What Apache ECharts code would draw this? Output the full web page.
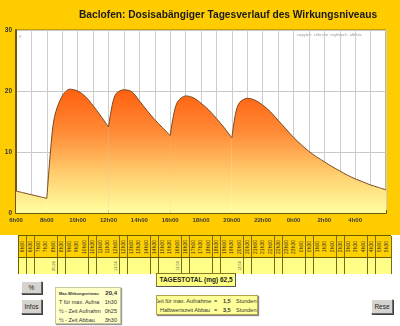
<!DOCTYPE html>
<html><head><meta charset="utf-8">
<script src="https://cdn.jsdelivr.net/npm/echarts/dist/echarts.min.js"></script>
<style>
html,body{margin:0;padding:0;width:400px;height:326px;overflow:hidden;background:#fff;font-family:"Liberation Sans",Arial,sans-serif;}
#chart{position:absolute;left:0;top:0;width:400px;height:235px;}
.abs{position:absolute;box-sizing:border-box;}
.hcell{position:absolute;top:0;height:22px;background:#FFD000;border-right:1px solid #7a6a10;display:flex;align-items:center;justify-content:center;box-sizing:border-box;}
.dcell{position:absolute;top:22px;height:16px;background:#FFFF88;border-right:1px solid #7a6a10;display:flex;align-items:center;justify-content:center;box-sizing:border-box;}
.vt{writing-mode:vertical-rl;transform:rotate(180deg);white-space:nowrap;line-height:1;}
.btn{position:absolute;box-sizing:border-box;background:#d6d3ce;border:1px solid;border-color:#fff #6b6b6b #6b6b6b #fff;box-shadow:1px 1px 0 #404040;font-size:6.5px;color:#222;display:flex;align-items:center;justify-content:center;}
.row{position:absolute;left:3px;right:3px;font-size:5.5px;color:#333;white-space:nowrap;}
</style></head><body>
<div id="chart"></div>
<div id="table" class="abs" style="left:18px;top:235px;width:373px;height:39px;border:1px solid #6a5a00;border-right:none;"></div>
<div class="abs" style="left:156px;top:273px;width:80px;height:14px;background:#FFFF80;border:1px solid #8a7a20;border-right-color:#555;border-bottom-color:#555;font-size:6.5px;font-weight:bold;color:#222;line-height:12px;text-align:center;white-space:nowrap;" id="total"></div>
<div class="btn" style="left:21px;top:281px;width:21px;height:13px;">%</div>
<div class="btn" style="left:21px;top:299px;width:21px;height:15px;">Infos</div>
<div class="btn" style="left:371px;top:299px;width:22px;height:15px;">Rese</div>
<div id="info1" class="abs" style="left:55px;top:287px;width:66px;height:37px;background:#FFFFC8;border:1px solid #c8c8a0;box-shadow:1px 1px 1px #999;"></div>
<div id="info2" class="abs" style="left:156px;top:295px;width:102px;height:20px;background:#FFFF99;border:1px solid #b0a050;box-shadow:1px 1px 1px #888;overflow:hidden;"></div>
<script>
// ---- data ----
const titleText = "Baclofen: Dosisabängiger Tagesverlauf des Wirkungsniveaus";
const times = ["6h00","6h30","7h00","7h30","8h00","8h15","8h30","9h00","9h30","10h00","10h30","11h00","11h30","12h00","12h15","12h30","13h00","13h30","14h00","14h30","15h00","15h30","16h00","16h15","16h30","17h00","17h30","18h00","18h30","19h00","19h30","20h00","20h15","20h30","21h00","21h30","22h00","22h30","23h00","23h30","0h00","0h30","1h00","1h30","2h00","2h30","3h00","3h30","4h00","4h30","5h00","5h30","6h00"];
const levels = [3.6,3.3,3.0,2.7,2.4, 10.5,15.8,19.2,20.3,20.0,19.1,17.6,15.9,14.1, 17.8,19.6,20.2,19.9,18.4,16.8,15.3,14.0,12.7, 16.4,18.3,19.2,18.9,18.0,16.9,15.5,14.0,12.3, 16.4,18.1,18.8,18.5,17.7,16.6,15.2,13.8,12.4,11.2,10.1,9.2,8.4,7.6,6.9,6.2,5.6,5.1,4.6,4.2,3.8];
const doseTimes = ["8h00","12h00","16h00","20h00"];
const doseLabels = ["25,00","12,50","12,50","12,50"];
const slotLabels = ["6h00","6h30","7h00","7h30","8h00","8h30","9h00","9h30","10h00","10h30","11h00","11h30","12h00","12h30","13h00","13h30","14h00","14h30","15h00","15h30","16h00","16h30","17h00","17h30","18h00","18h30","19h00","19h30","20h00","20h30","21h00","21h30","22h00","22h30","23h00","23h30","0h00","0h30","1h00","1h30","2h00","2h30","3h00","3h30","4h00","4h30","5h00","5h30"];
const yTicks = [0,10,20,30];
const xLabelHours = [6,8,10,12,14,16,18,20,22,0,2,4];
const totalText = "TAGESTOTAL (mg) 62,5";
const copyText = "copyleft  célestin  nightroch  albéric";
const info1 = [["Max.Wirkungsniveau","20,4"],["T für max. Aufna","1h30"],["½ - Zeit Aufnahm","0h25"],["½ - Zeit Abbau","3h30"]];
const info2 = [["Zeit für max. Aufnahme","1,5","Stunden"],["Halbwertszeit Abbau","3,5","Stunden"]];

// ---- helpers ----
function clock(s){const p=s.split('h');return +p[0]+(+p[1])/60;}
let prev=-1;
const pts = times.map((s,i)=>{let t=clock(s);while(t<prev)t+=24;prev=t;return [t-6,levels[i]];});
const bounds=[0].concat(doseTimes.map(s=>clock(s)-6)).concat([24]);

const grad = new echarts.graphic.LinearGradient(0,88,0,213,[
  {offset:0,color:'#FF5E0E'},{offset:0.35,color:'#FF8A36'},{offset:0.7,color:'#FFD070'},{offset:1,color:'#FFFFA0'}],true);

const series=[];
for(let i=0;i<bounds.length-1;i++){
  const d=pts.filter(p=>p[0]>=bounds[i]-1e-9&&p[0]<=bounds[i+1]+1e-9);
  series.push({type:'line',data:d,smooth:0.3,symbol:'none',silent:true,
    lineStyle:{color:'#7a4a1e',width:1},areaStyle:{color:grad,opacity:1}});
}

const chart=echarts.init(document.getElementById('chart'),null,{renderer:'canvas'});
chart.setOption({
  animation:false,
  backgroundColor:'#FFCC00',
  textStyle:{fontFamily:'Liberation Sans'},
  title:{text:titleText,left:79,top:10,padding:0,textStyle:{fontSize:10.2,fontWeight:'bold',color:'#1a1a1a',fontFamily:'Liberation Sans'}},
  grid:{left:16,right:14,top:30,bottom:22,show:true,backgroundColor:'#ffffff',borderColor:'#8c7400',borderWidth:1},
  xAxis:{type:'value',min:0,max:24,interval:1,
    axisLine:{show:true,lineStyle:{color:'#6e5a00',width:2}},
    axisTick:{show:true,inside:true,length:3,lineStyle:{color:'#6e5a00'}},
    splitLine:{show:true,lineStyle:{color:'#cccccc',width:1}},
    axisLabel:{margin:4,fontSize:6,fontWeight:'bold',color:'#3a3a3a',
      formatter:v=>{const h=(v+6)%24;return (v<24&&xLabelHours.indexOf(h)>=0&&v%2===0)?h+'h00':'';}}},
  yAxis:{type:'value',min:yTicks[0],max:yTicks[yTicks.length-1],interval:10,
    axisLine:{show:true,lineStyle:{color:'#6e5a00',width:2}},
    axisTick:{show:false},
    splitLine:{show:true,lineStyle:{color:'#c8c8c8',width:1}},
    axisLabel:{margin:4,fontSize:6.5,fontWeight:'bold',color:'#333'}},
  graphic:[
    {type:'text',left:297,top:33,style:{text:copyText,fontSize:4.2,fill:'#9a9a9a',fontFamily:'Liberation Sans'}},
    {type:'text',left:19,top:34,style:{text:'v',fontSize:5,fill:'#aaaaaa'}}
  ],
  series:series
});

// ---- table ----
const tbl=document.getElementById('table');
const cw=372/slotLabels.length;
slotLabels.forEach((lab,i)=>{
  const h=document.createElement('div');h.className='hcell';
  h.style.left=(i*cw)+'px';h.style.width=(cw+0.5)+'px';
  h.innerHTML='<span class="vt" style="font-size:5px;color:#333">'+lab+'</span>';
  tbl.appendChild(h);
  const d=document.createElement('div');d.className='dcell';
  d.style.left=(i*cw)+'px';d.style.width=(cw+0.5)+'px';
  const k=doseTimes.indexOf(lab);
  if(k>=0)d.innerHTML='<span class="vt" style="font-size:4px;color:#555">'+doseLabels[k]+'</span>';
  tbl.appendChild(d);
});
const sep=document.createElement('div');sep.className='abs';
sep.style.cssText='left:0;top:21px;width:372px;height:1px;background:#6a5a00;';
tbl.appendChild(sep);
document.getElementById('total').textContent=totalText;

// ---- info boxes ----
const b1=document.getElementById('info1');
info1.forEach((r,i)=>{
  const el=document.createElement('div');el.className='row';
  el.style.top=(2+i*9)+'px';
  if(i===0){el.innerHTML='<span style="font-size:4px;font-weight:bold;">'+r[0]+'</span><span style="position:absolute;right:0;font-weight:bold;font-size:6px;">'+r[1]+'</span>';}
  else{el.innerHTML='<span>'+r[0]+'</span><span style="position:absolute;right:0;">'+r[1]+'</span>';}
  b1.appendChild(el);
});
const b2=document.getElementById('info2');
info2.forEach((r,i)=>{
  const el=document.createElement('div');el.className='abs';
  el.style.cssText='left:0;top:'+(2+i*9)+'px;width:102px;height:9px;font-size:5.5px;color:#333;white-space:nowrap;';
  const off=(i===0)?-2.5:3;
  el.innerHTML='<span style="position:absolute;left:'+off+'px">'+r[0]+'</span><span style="position:absolute;left:57px">=</span><span style="position:absolute;left:66px;font-weight:bold">'+r[1]+'</span><span style="position:absolute;left:79px">'+r[2]+'</span>';
  b2.appendChild(el);
});
</script>
</body></html>
